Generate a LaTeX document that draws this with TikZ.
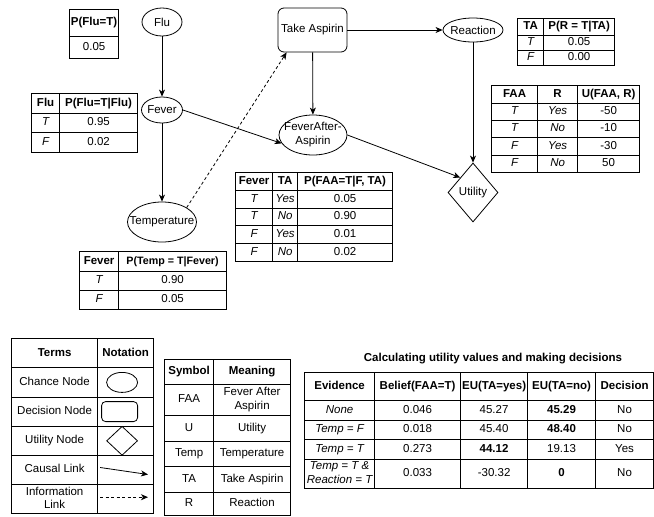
\documentclass[tikz,border=0pt]{standalone}
\usepackage{fontspec}
\setmainfont{Liberation Sans}[Scale=1.15]
\usetikzlibrary{arrows.meta, matrix, shapes.geometric}

\newcommand{\twolines}[2]{{\renewcommand{\arraystretch}{1.15}\begin{tabular}{@{}c@{}}#1\\#2\end{tabular}}}

\tikzset{
  cpt/.style={matrix of nodes, nodes in empty cells, inner sep=0pt, column sep=-0.8pt, row sep=-0.8pt, anchor=north west,
    nodes={draw, line width=0.8pt, inner sep=0pt, anchor=center, text height=8.2pt, text depth=2.5pt}},
  twoline/.style={text height=, text depth=},
  chance/.style={ellipse, draw, line width=0.8pt, inner sep=0pt},
  decision/.style={rectangle, rounded corners=6pt, draw, line width=0.8pt, inner sep=0pt},
  utility/.style={diamond, draw, line width=0.8pt, inner sep=0pt},
  causal/.style={-{Stealth[length=7pt, width=6pt, inset=2pt]}, line width=0.8pt},
  infolink/.style={causal, dash pattern=on 3pt off 2.5pt},
}

\begin{document}
\begin{tikzpicture}[x=1pt, y=-1pt]
    \useasboundingbox (0,0) rectangle (654,517);

    % decision network
    \node[chance, minimum width=40pt, minimum height=28pt] (flu) at (162,22) {Flu};
    \node[chance, minimum width=41pt, minimum height=26pt] (fever) at (162,110) {\makebox[0pt]{Fever}};
    \node[chance, minimum width=69pt, minimum height=40pt] (temp) at (162,222) {\makebox[0pt]{Temperature}};
    \node[decision, minimum width=69pt, minimum height=44pt] (aspirin) at (312.5,30) {\makebox[0pt]{Take Aspirin}};
    \node[chance, minimum width=60pt, minimum height=24pt] (react) at (473,30) {\makebox[0pt]{Reaction}};
    \node[chance, minimum width=68pt, minimum height=40pt] (faa) at (313,135) {\makebox[0pt]{\twolines{FeverAfter-}{Aspirin}}};
    \node[utility, minimum width=50pt, minimum height=59pt] (util) at (473,192.5) {\makebox[0pt]{Utility}};

    \draw[causal] (flu) -- (fever);
    \draw[causal] (fever) -- (temp);
    \draw[causal] (fever.east) -- (faa.195);
    \draw[causal] (aspirin) -- (faa);
    \draw[causal] (aspirin) -- (react);
    \draw[causal] (react) -- (util);
    \draw[causal] (faa.east) -- (util.north west);
    \draw[infolink] (temp.north east) -- ([xshift=9pt]aspirin.south west);

    % probability and utility tables
    \matrix (cptflu) [cpt, column 1/.style={nodes={minimum width=49pt}},
        row 1/.style={nodes={font=\bfseries, minimum height=27pt}}, row 2/.style={nodes={minimum height=22pt}}] at (69,9) {
        P(Flu=T) \\
        0.05 \\
    };
    \matrix (cptfever) [cpt, column 1/.style={nodes={font=\itshape, minimum width=28pt}}, column 2/.style={nodes={minimum width=78pt}},
        row 1/.style={nodes={font=\bfseries, minimum height=20pt}}, row 2/.style={nodes={minimum height=19pt}},
        row 3/.style={nodes={minimum height=20pt}}] at (31,93) {
        Flu & P(Flu=T\textbar Flu) \\
        T & 0.95 \\
        F & 0.02 \\
    };
    \matrix (cpttemp) [cpt, column 1/.style={nodes={font=\itshape, minimum width=39pt}}, column 2/.style={nodes={minimum width=108pt}},
        row 1/.style={nodes={font=\bfseries, minimum height=20pt}}, row 2/.style={nodes={minimum height=19pt}},
        row 3/.style={nodes={minimum height=19pt}}] at (79,251) {
        Fever & |[font=\bfseries\fontsize{9.3}{11}\selectfont]| P(Temp = T\textbar Fever) \\
        T & 0.90 \\
        F & 0.05 \\
    };
    \matrix (cptfaa) [cpt, column 1/.style={nodes={font=\itshape, minimum width=37pt}}, column 2/.style={nodes={font=\itshape, minimum width=25pt}},
        column 3/.style={nodes={minimum width=95pt}}, row 1/.style={nodes={font=\bfseries, minimum height=17pt}},
        every even row/.style={nodes={minimum height=17.75pt}}, every odd row/.style={nodes={minimum height=17.75pt}}] at (235,172) {
        Fever & TA & P(FAA=T\textbar F, TA) \\
        T & Yes & 0.05 \\
        T & No & 0.90 \\
        F & Yes & 0.01 \\
        F & No & 0.02 \\
    };
    \matrix (cptreact) [cpt, column 1/.style={nodes={font=\itshape, minimum width=26pt}}, column 2/.style={nodes={minimum width=71pt}},
        row 1/.style={nodes={font=\bfseries, minimum height=17pt}}, row 2/.style={nodes={minimum height=15pt}},
        row 3/.style={nodes={minimum height=15pt}}] at (517,18) {
        TA & P(R = T\textbar TA) \\
        T & 0.05 \\
        F & 0.00 \\
    };
    \matrix (utab) [cpt, column 1/.style={nodes={font=\itshape, minimum width=46pt}}, column 2/.style={nodes={font=\itshape, minimum width=40pt}},
        column 3/.style={nodes={minimum width=62pt}}, row 1/.style={nodes={font=\bfseries, minimum height=17.4pt}},
        every even row/.style={nodes={minimum height=17.4pt}}, every odd row/.style={nodes={minimum height=17.4pt}}] at (491,85) {
        FAA & R & U(FAA, R) \\
        T & Yes & -50 \\
        T & No & -10 \\
        F & Yes & -30 \\
        F & No & 50 \\
    };

    % legend
    \matrix (terms) [cpt, column 1/.style={nodes={minimum width=86pt}}, column 2/.style={nodes={minimum width=56pt}},
        row 1/.style={nodes={font=\bfseries, minimum height=30pt}},
        every even row/.style={nodes={minimum height=29.2pt}}, every odd row/.style={nodes={minimum height=29.2pt}}] at (11,338) {
        Terms & Notation \\
        Chance Node & \\
        Decision Node & \\
        Utility Node & \\
        Causal Link & \\
        |[twoline]| \twolines{Information}{Link} & \\
    };
    \node[chance, minimum width=31pt, minimum height=20pt, xshift=-3.5pt] (lchance) at (terms-2-2) {};
    \node[decision, rounded corners=4pt, minimum width=36pt, minimum height=20pt, xshift=-6pt] (ldecision) at (terms-3-2) {};
    \node[utility, minimum width=31pt, minimum height=29pt, xshift=-3.5pt] (lutility) at (terms-4-2) {};
    \draw[causal] ([xshift=3pt, yshift=2.5pt]terms-5-2.west) -- ([xshift=-6pt, yshift=-4.5pt]terms-5-2.east);
    \draw[infolink] ([xshift=3pt, yshift=2pt]terms-6-2.west) -- ([xshift=-6pt, yshift=2pt]terms-6-2.east);

    \matrix (symbols) [cpt, column 1/.style={nodes={minimum width=49pt}}, column 2/.style={nodes={minimum width=77pt}},
        row 1/.style={nodes={font=\bfseries, minimum height=25pt}}, row 2/.style={nodes={minimum height=31pt}},
        row 3/.style={nodes={minimum height=25.5pt}}, row 4/.style={nodes={minimum height=25.5pt}},
        row 5/.style={nodes={minimum height=25.5pt}}, row 6/.style={nodes={minimum height=23pt}}] at (164,359) {
        Symbol & Meaning \\
        FAA & |[twoline]| \twolines{Fever After}{Aspirin} \\
        U & Utility \\
        Temp & Temperature \\
        TA & Take Aspirin \\
        R & Reaction \\
    };

    % expected utilities
    \node[font=\bfseries] (calctitle) at (493,359) {Calculating utility values and making decisions};
    \matrix (calc) [cpt, column 1/.style={nodes={font=\itshape, minimum width=70pt}}, column 2/.style={nodes={minimum width=86pt}},
        column 3/.style={nodes={minimum width=67pt}}, column 4/.style={nodes={minimum width=68pt}},
        column 5/.style={nodes={minimum width=58pt}},
        row 1/.style={nodes={font=\bfseries, minimum height=28pt}}, row 2/.style={nodes={minimum height=20pt}},
        row 3/.style={nodes={minimum height=19pt}}, row 4/.style={nodes={minimum height=20pt}},
        row 5/.style={nodes={minimum height=29pt}}] at (304,372) {
        Evidence & Belief(FAA=T) & EU(TA=yes) & EU(TA=no) & Decision \\
        None & 0.046 & 45.27 & \textbf{45.29} & No \\
        Temp = F & 0.018 & 45.40 & \textbf{48.40} & No \\
        Temp = T & 0.273 & \textbf{44.12} & 19.13 & Yes \\
        |[twoline]| \twolines{Temp = T \&}{Reaction = T} & 0.033 & -30.32 & \textbf{0} & No \\
    };
\end{tikzpicture}
\end{document}
